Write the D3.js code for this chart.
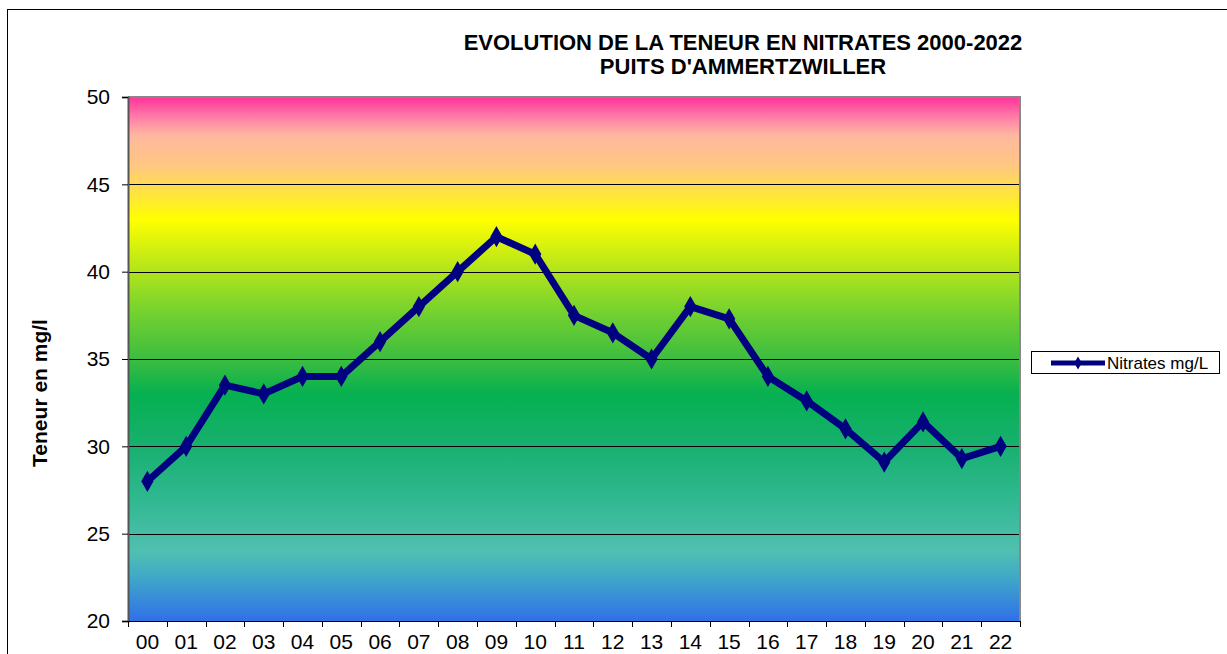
<!DOCTYPE html>
<html>
<head>
<meta charset="utf-8">
<script src="https://cdn.jsdelivr.net/npm/d3@7"></script>
<style>
  body { margin: 0; background: #fff; }
  svg { display: block; font-family: "Liberation Sans", Arial, sans-serif; }
</style>
</head>
<body>
<div id="chart"></div>
<script>
const years = ["00","01","02","03","04","05","06","07","08","09","10","11","12","13","14","15","16","17","18","19","20","21","22"];
const nitrates = [28.0, 30.0, 33.5, 33.0, 34.0, 34.0, 36.0, 38.0, 40.0, 42.0, 41.0, 37.5, 36.5, 35.0, 38.0, 37.3, 34.0, 32.6, 31.0, 29.1, 31.4, 29.3, 30.0];
const yTicks = [20, 25, 30, 35, 40, 45, 50];
const titleLines = ["EVOLUTION DE LA TENEUR EN NITRATES 2000-2022", "PUITS D'AMMERTZWILLER"];
const seriesName = "Nitrates mg/L";
const yLabel = "Teneur en mg/l";

// background bands: value -> colour
const bgStops = [
  [50, "#ff3399"], [48.8, "#ff80a8"], [47.8, "#ffb8a0"], [46, "#ffc880"],
  [43, "#ffff00"], [40, "#b0e41c"], [37.5, "#70d030"], [35, "#3cbd40"],
  [33, "#06b050"], [30, "#18b070"], [27, "#30b890"], [24, "#50c0b0"],
  [22.5, "#40a8c8"], [20, "#3070e8"]
];

const width = 1227, height = 654;
const margin = {left: 128, top: 97, right: 207, bottom: 33};

const svg = d3.select("#chart").append("svg")
    .attr("width", width)
    .attr("height", height);

// chart frame
svg.append("rect")
    .attr("x", 7.5).attr("y", 9.5)
    .attr("width", width + 10).attr("height", height + 10)
    .attr("fill", "none").attr("stroke", "#000").attr("stroke-width", 1);

let x = d3.scaleBand()
    .domain(years)
    .range([margin.left, width - margin.right]);

let y = d3.scaleLinear()
    .domain([20, 50])
    .range([height - margin.bottom, margin.top]);

let grad = svg.append("defs").append("linearGradient")
    .attr("id", "bg")
    .attr("x1", 0).attr("x2", 0).attr("y1", 0).attr("y2", 1);
grad.selectAll("stop")
    .data(bgStops)
    .enter().append("stop")
    .attr("offset", d => (y(d[0]) - y(50)) / (y(20) - y(50)))
    .attr("stop-color", d => d[1]);

svg.append("rect")
    .attr("x", x.range()[0])
    .attr("y", y(50))
    .attr("width", x.range()[1] - x.range()[0])
    .attr("height", y(20) - y(50))
    .attr("fill", "url(#bg)");

// grid
svg.append("g")
    .selectAll("line")
    .data(yTicks.filter(t => t > 20 && t < 50))
    .enter().append("line")
    .attr("x1", x.range()[0]).attr("x2", x.range()[1])
    .attr("y1", d => Math.round(y(d)) + 0.5).attr("y2", d => Math.round(y(d)) + 0.5)
    .attr("stroke", "#000").attr("stroke-width", 1);

// plot border (top + right gray)
svg.append("path")
    .attr("d", `M${x.range()[0]},${y(50)}H${x.range()[1]}V${y(20)}`)
    .attr("fill", "none").attr("stroke", "#888").attr("stroke-width", 2);

// y axis
let yAxis = svg.append("g")
    .attr("transform", `translate(${x.range()[0]},0)`)
    .call(d3.axisLeft(y).tickValues(yTicks).tickSize(6).tickPadding(12));
yAxis.select(".domain").attr("stroke", "#555").attr("stroke-width", 2);
yAxis.selectAll("text").attr("font-size", 21).attr("fill", "#000")
    .attr("font-family", "Liberation Sans, Arial, sans-serif");

// x axis
let xTickPos = years.map(d => x(d)).concat([x.range()[1]]);
let xg = svg.append("g");
xg.append("line")
    .attr("x1", x.range()[0]).attr("x2", x.range()[1])
    .attr("y1", y(20) + 0.5).attr("y2", y(20) + 0.5)
    .attr("stroke", "#000");
xg.selectAll("line.tick")
    .data(xTickPos)
    .enter().append("line")
    .attr("class", "tick")
    .attr("x1", d => Math.round(d) + 0.5).attr("x2", d => Math.round(d) + 0.5)
    .attr("y1", y(20)).attr("y2", y(20) + 6)
    .attr("stroke", "#000");
xg.selectAll("text")
    .data(years)
    .enter().append("text")
    .attr("x", d => x(d) + x.bandwidth() / 2)
    .attr("y", 649)
    .attr("text-anchor", "middle")
    .attr("font-size", 21)
    .text(d => d);

// title
svg.append("text")
    .attr("x", 743).attr("y", 50)
    .attr("text-anchor", "middle")
    .attr("font-size", 22).attr("font-weight", "bold")
    .selectAll("tspan")
    .data(titleLines)
    .enter().append("tspan")
    .attr("x", 743)
    .attr("dy", (d, i) => i === 0 ? 0 : 24)
    .text(d => d);

// y label
svg.append("text")
    .attr("transform", "translate(47,393) rotate(-90)")
    .attr("text-anchor", "middle")
    .attr("font-size", 21).attr("font-weight", "bold")
    .text(yLabel);

// series line
let line = d3.line()
    .x((d, i) => x(years[i]) + x.bandwidth() / 2)
    .y(d => y(d));

svg.append("path")
    .datum(nitrates)
    .attr("d", line)
    .attr("fill", "none")
    .attr("stroke", "#000080")
    .attr("stroke-width", 7)
    .attr("stroke-linejoin", "round");

let diamond = d3.symbol().type(d3.symbolDiamond).size(130);
svg.append("g")
    .selectAll("path")
    .data(nitrates)
    .enter().append("path")
    .attr("transform", (d, i) => `translate(${x(years[i]) + x.bandwidth() / 2},${y(d)})`)
    .attr("d", diamond)
    .attr("fill", "#000080");

// legend
let lg = svg.append("g").attr("transform", "translate(1031,351)");
lg.append("rect")
    .attr("x", 0.5).attr("y", 0.5)
    .attr("width", 188).attr("height", 22)
    .attr("fill", "#fff").attr("stroke", "#000");
lg.append("line")
    .attr("x1", 20).attr("x2", 74)
    .attr("y1", 12).attr("y2", 12)
    .attr("stroke", "#000080").attr("stroke-width", 5);
lg.append("path")
    .attr("transform", "translate(47,12)")
    .attr("d", d3.symbol().type(d3.symbolDiamond).size(50))
    .attr("fill", "#000080");
lg.append("text")
    .attr("x", 76).attr("y", 18)
    .attr("font-size", 17)
    .text(seriesName);
</script>
</body>
</html>
